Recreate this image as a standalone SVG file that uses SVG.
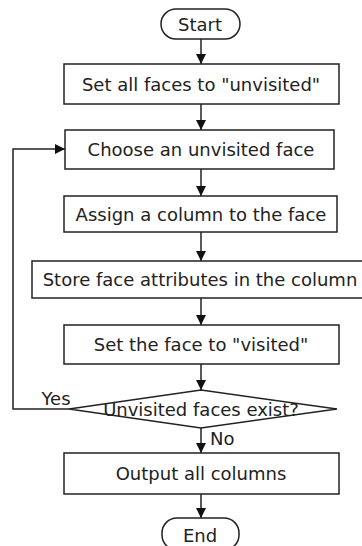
<svg xmlns="http://www.w3.org/2000/svg" width="362" height="546" viewBox="0 0 362 546">
<style>
.box{fill:#fff;stroke:#222;stroke-width:1.5}
.t{font-family:"DejaVu Sans",sans-serif;font-size:18px;fill:#222;text-anchor:middle}
.c{stroke:#222;stroke-width:1.5;fill:none}
</style>
<defs>
<marker id="ah" viewBox="0 0 10 10" refX="10" refY="5" markerWidth="10" markerHeight="10" markerUnits="userSpaceOnUse" orient="auto">
<path d="M0,0 L10,5 L0,10 Z" fill="#111"/>
</marker>
</defs>
<rect width="362" height="546" fill="#fff"/>
<g id="connectors">
<line class="c" x1="201" y1="39" x2="201" y2="64" marker-end="url(#ah)"/>
<line class="c" x1="201" y1="104" x2="201" y2="130" marker-end="url(#ah)"/>
<line class="c" x1="201" y1="169" x2="201" y2="196" marker-end="url(#ah)"/>
<line class="c" x1="201" y1="232" x2="201" y2="261" marker-end="url(#ah)"/>
<line class="c" x1="201" y1="298" x2="201" y2="325" marker-end="url(#ah)"/>
<line class="c" x1="201" y1="364" x2="201" y2="390" marker-end="url(#ah)"/>
<polyline class="c" points="69,409 13,409 13,149 65,149" marker-end="url(#ah)"/>
<line class="c" x1="201" y1="428" x2="201" y2="453" marker-end="url(#ah)"/>
<line class="c" x1="201" y1="494" x2="201" y2="518" marker-end="url(#ah)"/>
<text class="t" x="56" y="405">Yes</text>
<text class="t" x="210" y="445" style="text-anchor:start">No</text>
</g>
<g id="start">
<rect class="box" x="161" y="9" width="79" height="30" rx="15"/>
<text class="t" x="200" y="30.5">Start</text>
</g>
<g id="n1">
<rect class="box" x="64" y="64" width="275" height="40"/>
<text class="t" x="201" y="90.5">Set all faces to "unvisited"</text>
</g>
<g id="n2">
<rect class="box" x="65" y="130" width="269" height="39"/>
<text class="t" x="201" y="156">Choose an unvisited face</text>
</g>
<g id="n3">
<rect class="box" x="64" y="196" width="273" height="36"/>
<text class="t" x="201" y="220.5">Assign a column to the face</text>
</g>
<g id="n4">
<rect class="box" x="32" y="261" width="340" height="37"/>
<text class="t" x="200" y="286">Store face attributes in the column</text>
</g>
<g id="n5">
<rect class="box" x="64" y="325" width="275" height="39"/>
<text class="t" x="201" y="351">Set the face to "visited"</text>
</g>
<g id="decision">
<polygon class="box" points="201,390 337,409 201,428 69,409"/>
<text class="t" x="201" y="416">Unvisited faces exist?</text>
</g>
<g id="n6">
<rect class="box" x="64" y="453" width="275" height="41"/>
<text class="t" x="201" y="480">Output all columns</text>
</g>
<g id="end">
<rect class="box" x="162" y="518" width="77" height="32" rx="15"/>
<text class="t" x="200" y="541.5">End</text>
</g>
</svg>
